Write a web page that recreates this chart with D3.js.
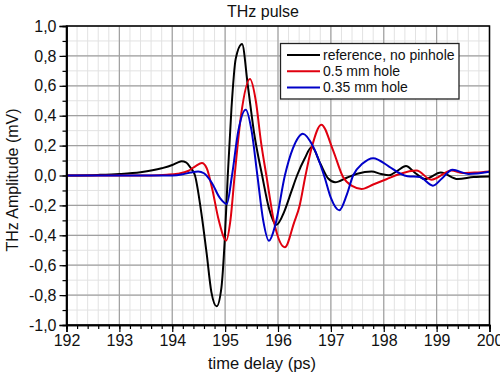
<!DOCTYPE html>
<html>
<head>
<meta charset="utf-8">
<script src="https://cdn.jsdelivr.net/npm/d3@7"></script>
<style>
  html, body { margin: 0; padding: 0; background: #fff; }
  svg { display: block; font-family: "Liberation Sans", Arial, sans-serif; }
</style>
</head>
<body>
<svg id="chart" width="500" height="375"></svg>
<script>
// ---- data ----
const seriesNames = ["reference, no pinhole", "0.5 mm hole", "0.35 mm hole"];
const seriesColors = ["#000000", "#e0000f", "#0000c8"];

const blackT = [192.0, 192.6, 193.0, 193.4, 193.8, 194.0, 194.1, 194.18, 194.26, 194.35, 194.43, 194.55, 194.65, 194.74, 194.84, 194.93, 194.99, 195.05, 195.12, 195.2, 195.32, 195.43, 195.55, 195.7, 195.83, 195.97, 196.12, 196.25, 196.36, 196.5, 196.64, 196.8, 196.95, 197.08, 197.3, 197.5, 197.77, 197.95, 198.1, 198.25, 198.42, 198.6, 198.78, 199.08, 199.4, 199.7, 200.0];
const blackV = [0, 0.004, 0.01, 0.022, 0.048, 0.07, 0.086, 0.095, 0.088, 0.05, 0.0, -0.25, -0.52, -0.78, -0.875, -0.75, -0.45, 0.0, 0.45, 0.78, 0.88, 0.6, 0.28, 0.0, -0.22, -0.33, -0.24, -0.11, 0.0, 0.11, 0.19, 0.08, -0.02, -0.045, -0.015, 0.012, 0.027, 0.01, 0.002, 0.03, 0.063, 0.015, -0.024, 0.02, -0.024, -0.01, -0.006];

const redT = [192.0, 193.6, 193.9, 194.1, 194.3, 194.45, 194.56, 194.65, 194.75, 194.88, 195.02, 195.1, 195.18, 195.3, 195.47, 195.58, 195.68, 195.78, 195.93, 196.13, 196.3, 196.41, 196.52, 196.64, 196.82, 197.04, 197.23, 197.4, 197.58, 197.8, 198.05, 198.3, 198.62, 198.9, 199.28, 199.5, 199.75, 200.0];
const redV = [0, 0.0, 0.005, 0.012, 0.03, 0.065, 0.083, 0.05, -0.08, -0.3, -0.435, -0.3, 0.0, 0.4, 0.645, 0.5, 0.22, 0.0, -0.32, -0.48, -0.32, -0.2, 0.0, 0.19, 0.34, 0.17, -0.01, -0.07, -0.09, -0.06, -0.025, 0.01, 0.033, -0.028, 0.033, 0.016, 0.02, 0.027];

const blueT = [192.0, 194.0, 194.2, 194.35, 194.49, 194.6, 194.75, 194.9, 195.03, 195.13, 195.25, 195.39, 195.5, 195.61, 195.72, 195.83, 195.95, 196.13, 196.28, 196.47, 196.67, 196.88, 197.0, 197.16, 197.3, 197.42, 197.6, 197.8, 198.1, 198.3, 198.45, 198.68, 198.93, 199.1, 199.3, 199.6, 200.0];
const blueV = [0, 0.0, 0.008, 0.02, 0.027, 0.015, -0.05, -0.15, -0.19, 0.0, 0.3, 0.44, 0.3, 0.0, -0.3, -0.437, -0.33, 0.0, 0.18, 0.28, 0.19, -0.01, -0.15, -0.233, -0.13, 0.0, 0.08, 0.116, 0.06, 0.015, -0.005, -0.01, -0.068, -0.02, 0.038, 0.01, 0.025];

const xTicks = [192, 193, 194, 195, 196, 197, 198, 199, 200];
const yTicks = [-1.0, -0.8, -0.6, -0.4, -0.2, 0.0, 0.2, 0.4, 0.6, 0.8, 1.0];
const xMinor = d3.range(0, 41).map(i => 192 + i * 0.2);
const yMinor = d3.range(0, 21).map(i => -1 + i * 0.1);

const title = "THz pulse";
const xLabel = "time delay (ps)";
const yLabel = "THz Amplitude (mV)";

// ---- layout ----
const svg = d3.select("#chart");
const L = 66.5, R = 489.5, T = 26, B = 325;
const x = d3.scaleLinear().domain([192, 200]).range([L, R]);
const y = d3.scaleLinear().domain([-1, 1]).range([B, T]);

const locale = d3.formatLocale({decimal: ",", thousands: ".", grouping: [3], currency: ["", ""], minus: "-"});
const fmtY = locale.format(".1f");

// minor grid
const grid = svg.append("g");
grid.selectAll("line.vm").data(xMinor).join("line")
  .attr("x1", d => x(d)).attr("x2", d => x(d)).attr("y1", T).attr("y2", B)
  .attr("stroke", "#e2e2e2").attr("stroke-width", 1);
grid.selectAll("line.hm").data(yMinor).join("line")
  .attr("y1", d => y(d)).attr("y2", d => y(d)).attr("x1", L).attr("x2", R)
  .attr("stroke", "#e2e2e2").attr("stroke-width", 1);
// major grid
grid.selectAll("line.vM").data(xTicks).join("line")
  .attr("x1", d => x(d)).attr("x2", d => x(d)).attr("y1", T).attr("y2", B)
  .attr("stroke", "#a0a0a0").attr("stroke-width", 1.2);
grid.selectAll("line.hM").data(yTicks).join("line")
  .attr("y1", d => y(d)).attr("y2", d => y(d)).attr("x1", L).attr("x2", R)
  .attr("stroke", "#a0a0a0").attr("stroke-width", 1.2);

// clip
svg.append("clipPath").attr("id", "clip").append("rect")
  .attr("x", L).attr("y", T).attr("width", R - L).attr("height", B - T);

// lines
const line = d3.line().x(d => x(d[0])).y(d => y(d[1])).curve(d3.curveMonotoneX);
const series = [
  d3.zip(blackT, blackV),
  d3.zip(redT, redV),
  d3.zip(blueT, blueV)
];
const lines = svg.append("g").attr("clip-path", "url(#clip)");
[0, 1, 2].forEach(i => {
  lines.append("path").datum(series[i])
    .attr("d", line).attr("fill", "none")
    .attr("stroke", seriesColors[i]).attr("stroke-width", 2)
    .attr("stroke-linejoin", "round");
});

// frame
svg.append("rect").attr("x", L).attr("y", T).attr("width", R - L).attr("height", B - T)
  .attr("fill", "none").attr("stroke", "#000").attr("stroke-width", 1.5);

// axes
const xAxis = svg.append("g").attr("transform", `translate(0,${B})`)
  .call(d3.axisBottom(x).tickValues(xTicks).tickSize(7).tickPadding(3).tickFormat(d3.format("d")));
const xAxisMinor = svg.append("g").attr("transform", `translate(0,${B})`)
  .call(d3.axisBottom(x).tickValues(xMinor).tickSize(4).tickFormat(""));
const yAxis = svg.append("g").attr("transform", `translate(${L},0)`)
  .call(d3.axisLeft(y).tickValues(yTicks).tickSize(7).tickPadding(3).tickFormat(fmtY));
const yAxisMinor = svg.append("g").attr("transform", `translate(${L},0)`)
  .call(d3.axisLeft(y).tickValues(yMinor).tickSize(4).tickFormat(""));

[xAxis, xAxisMinor, yAxis, yAxisMinor].forEach(g => {
  g.select(".domain").attr("stroke", "#000").attr("stroke-width", 1.5);
  g.selectAll(".tick line").attr("stroke", "#000").attr("stroke-width", 1.2);
  g.selectAll("text").attr("font-size", 16).attr("fill", "#111")
    .attr("font-family", "'Liberation Sans', Arial, sans-serif");
});

// titles
svg.append("text").attr("x", 263).attr("y", 17).attr("text-anchor", "middle")
  .attr("font-size", 16).attr("fill", "#111").text(title);
svg.append("text").attr("x", 262).attr("y", 369).attr("text-anchor", "middle")
  .attr("font-size", 16.5).attr("fill", "#111").text(xLabel);
svg.append("text").attr("transform", "translate(18,180) rotate(-90)").attr("text-anchor", "middle")
  .attr("font-size", 16).attr("fill", "#111").text(yLabel);

// legend
const lg = svg.append("g");
lg.append("rect").attr("x", 280.5).attr("y", 43.5).attr("width", 178.5).attr("height", 55.5)
  .attr("fill", "#fff").attr("stroke", "#222").attr("stroke-width", 1.3);
seriesNames.forEach((name, i) => {
  const cy = 55 + i * 16.2;
  lg.append("line").attr("x1", 287).attr("x2", 320).attr("y1", cy).attr("y2", cy)
    .attr("stroke", seriesColors[i]).attr("stroke-width", 2);
  lg.append("text").attr("x", 323).attr("y", cy + 5).attr("font-size", 14)
    .attr("fill", "#111").text(name);
});
</script>
</body>
</html>
